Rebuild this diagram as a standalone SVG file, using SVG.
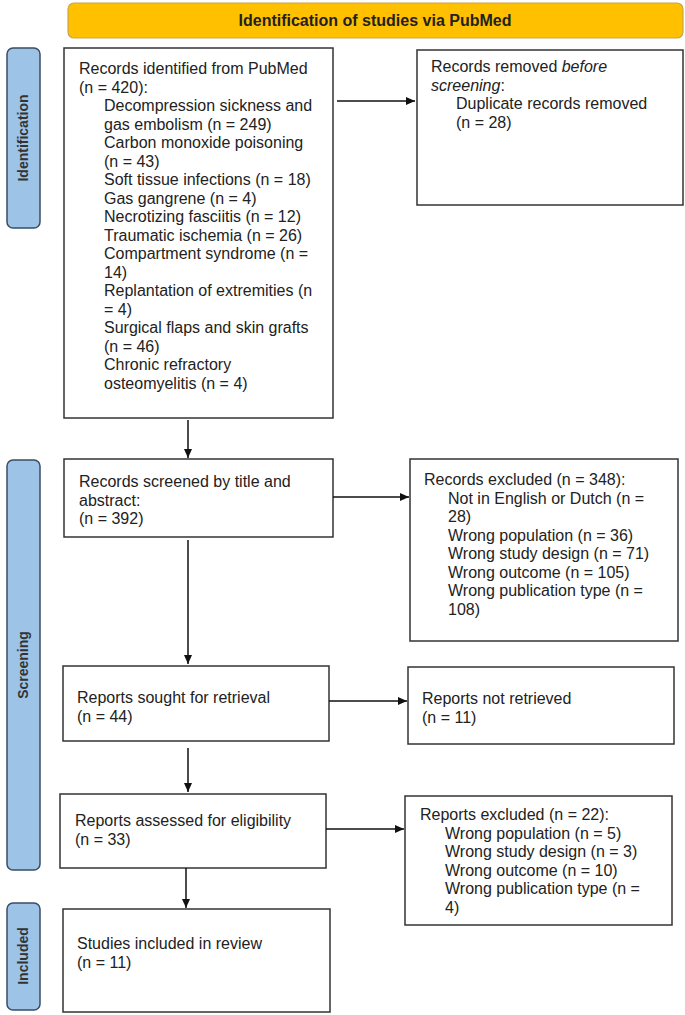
<svg xmlns="http://www.w3.org/2000/svg" width="685" height="1015" viewBox="0 0 685 1015">
<defs>
<marker id="ah" markerWidth="10" markerHeight="10" refX="9" refY="5" orient="auto" markerUnits="userSpaceOnUse">
<path d="M0,1 L9,5 L0,9 Z" fill="#111"/>
</marker>
<style>
.box{fill:#fff;stroke:#333;stroke-width:1.5}
.side{fill:#9DC3E6;stroke:#3A4D63;stroke-width:1.5}
.hdr{fill:#FFC000;stroke:#C9A64A;stroke-width:1.2}
text{font-family:"Liberation Sans",Arial,sans-serif;font-size:16px;fill:#222}
.b{font-weight:bold}
.sl{font-weight:bold;font-size:14px;fill:#333}
.con{stroke:#111;stroke-width:1.5;fill:none;marker-end:url(#ah)}
</style>
</defs>
<rect width="685" height="1015" fill="#fff"/>

<g id="header">
<rect class="hdr" x="68" y="3" width="615" height="35" rx="6"/>
<text class="b" x="375" y="26" text-anchor="middle" font-size="15">Identification of studies via PubMed</text>
</g>

<g id="side-identification">
<rect class="side" x="7" y="48" width="33" height="180" rx="6"/>
<text class="sl" transform="translate(28,138) rotate(-90)" text-anchor="middle">Identification</text>
</g>
<g id="side-screening">
<rect class="side" x="7" y="460" width="33" height="410" rx="6"/>
<text class="sl" transform="translate(28,665) rotate(-90)" text-anchor="middle">Screening</text>
</g>
<g id="side-included">
<rect class="side" x="7" y="903" width="33" height="107" rx="6"/>
<text class="sl" transform="translate(28,956) rotate(-90)" text-anchor="middle">Included</text>
</g>

<g id="box-identified">
<rect class="box" x="64" y="48" width="269" height="370"/>
<text x="79" y="74">Records identified from PubMed</text>
<text x="79" y="92.5">(n = 420):</text>
<text x="104" y="111">Decompression sickness and</text>
<text x="104" y="129.5">gas embolism (n = 249)</text>
<text x="104" y="148">Carbon monoxide poisoning</text>
<text x="104" y="166.5">(n = 43)</text>
<text x="104" y="185">Soft tissue infections (n = 18)</text>
<text x="104" y="203.5">Gas gangrene (n = 4)</text>
<text x="104" y="222">Necrotizing fasciitis (n = 12)</text>
<text x="104" y="240.5">Traumatic ischemia (n = 26)</text>
<text x="104" y="259">Compartment syndrome (n =</text>
<text x="104" y="277.5">14)</text>
<text x="104" y="296">Replantation of extremities (n</text>
<text x="104" y="314.5">= 4)</text>
<text x="104" y="333">Surgical flaps and skin grafts</text>
<text x="104" y="351.5">(n = 46)</text>
<text x="104" y="370">Chronic refractory</text>
<text x="104" y="388.5">osteomyelitis (n = 4)</text>
</g>

<g id="box-removed">
<rect class="box" x="417" y="50" width="266" height="155"/>
<text x="431" y="72">Records removed <tspan font-style="italic">before</tspan></text>
<text x="431" y="90.5"><tspan font-style="italic">screening</tspan>:</text>
<text x="456" y="109">Duplicate records removed</text>
<text x="456" y="127.5">(n = 28)</text>
</g>

<g id="box-screened">
<rect class="box" x="64" y="459" width="269" height="78"/>
<text x="79" y="487">Records screened by title and</text>
<text x="79" y="505.5">abstract:</text>
<text x="79" y="524">(n = 392)</text>
</g>

<g id="box-excluded">
<rect class="box" x="410" y="459" width="268" height="182"/>
<text x="424" y="485">Records excluded (n = 348):</text>
<text x="448" y="503.5">Not in English or Dutch (n =</text>
<text x="448" y="522">28)</text>
<text x="448" y="540.5">Wrong population (n = 36)</text>
<text x="448" y="559">Wrong study design (n = 71)</text>
<text x="448" y="577.5">Wrong outcome (n = 105)</text>
<text x="448" y="596">Wrong publication type (n =</text>
<text x="448" y="614.5">108)</text>
</g>

<g id="box-sought">
<rect class="box" x="63" y="666" width="266" height="75"/>
<text x="77" y="703">Reports sought for retrieval</text>
<text x="77" y="721.5">(n = 44)</text>
</g>

<g id="box-not-retrieved">
<rect class="box" x="408" y="667" width="266" height="77"/>
<text x="422" y="704">Reports not retrieved</text>
<text x="422" y="722.5">(n = 11)</text>
</g>

<g id="box-assessed">
<rect class="box" x="60" y="794" width="266" height="74"/>
<text x="75" y="826">Reports assessed for eligibility</text>
<text x="75" y="844.5">(n = 33)</text>
</g>

<g id="box-reports-excluded">
<rect class="box" x="405" y="796" width="267" height="129"/>
<text x="420" y="820">Reports excluded (n = 22):</text>
<text x="445" y="838.5">Wrong population (n = 5)</text>
<text x="445" y="857">Wrong study design (n = 3)</text>
<text x="445" y="875.5">Wrong outcome (n = 10)</text>
<text x="445" y="894">Wrong publication type (n =</text>
<text x="445" y="912.5">4)</text>
</g>

<g id="box-included">
<rect class="box" x="63" y="909" width="267" height="103"/>
<text x="77" y="949">Studies included in review</text>
<text x="77" y="967.5">(n = 11)</text>
</g>

<g id="connectors">
<line class="con" x1="337" y1="101" x2="415" y2="101"/>
<line class="con" x1="188" y1="420" x2="188" y2="458"/>
<line class="con" x1="333" y1="497" x2="409" y2="497"/>
<line class="con" x1="188" y1="540" x2="188" y2="664"/>
<line class="con" x1="329" y1="701" x2="407" y2="701"/>
<line class="con" x1="188" y1="748" x2="188" y2="792"/>
<line class="con" x1="326" y1="829" x2="404" y2="829"/>
<line class="con" x1="186" y1="868" x2="186" y2="908"/>
</g>
</svg>
